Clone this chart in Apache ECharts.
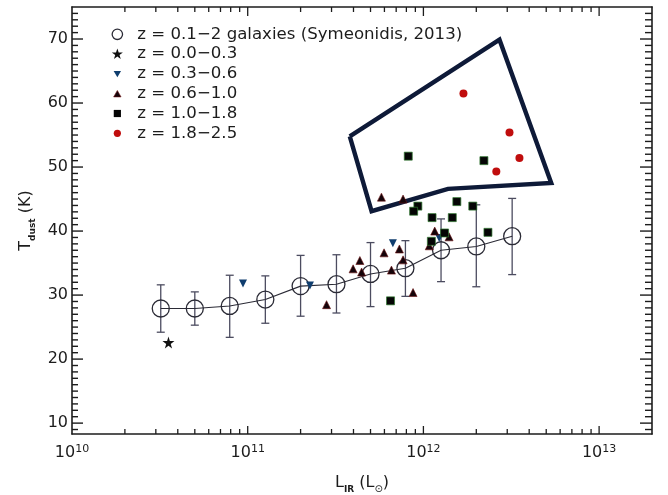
<!DOCTYPE html>
<html><head><meta charset="utf-8">
<script src="https://cdn.jsdelivr.net/npm/echarts@6/dist/echarts.min.js"></script>
<style>html,body{margin:0;padding:0;background:#fff}#c{width:668px;height:495px}</style>
</head><body><div id="c"></div>
<script>
// ---- axis ranges and tick positions ----
const X_MIN = 1e10, X_MAX = 2e13, Y_MIN = 8.3, Y_MAX = 75;
const xDecades = [1e10, 1e11, 1e12, 1e13];
const xMinorMult = [2, 3, 4, 5, 6, 7, 8, 9];
const yMajorTicks = [10, 20, 30, 40, 50, 60, 70];
const yMinorStep = 1;

// ---- binned sample (Symeonidis 2013) ----
const binL = [3.2e10, 5.0e10, 7.9e10, 1.26e11, 2.0e11, 3.2e11, 5.0e11, 7.9e11, 1.26e12, 2.0e12, 3.2e12];
const binT = [27.9, 27.9, 28.3, 29.3, 31.4, 31.7, 33.3, 34.2, 37.0, 37.6, 39.2];
const binLow = [24.2, 25.3, 23.4, 25.6, 26.7, 27.2, 28.2, 29.8, 32.1, 31.3, 33.2];
const binHigh = [31.6, 30.5, 33.1, 33.0, 36.2, 36.3, 38.2, 38.5, 41.9, 44.1, 45.1];

// ---- individual galaxies ----
const z00L = [3.54e10];
const z00T = [22.6];
const z03L = [9.4e10, 2.26e11, 6.7e11, 1.23e12];
const z03T = [31.8, 31.5, 38.1, 38.9];
const z06L = [2.81e11, 3.98e11, 4.35e11, 4.45e11, 5.97e11, 7.3e11, 7.66e11, 6.58e11, 8.73e11, 5.77e11, 7.66e11, 1.16e12, 1.40e12, 1.08e12];
const z06T = [28.5, 34.1, 35.4, 33.6, 36.6, 37.2, 35.5, 33.9, 30.4, 45.3, 45.0, 40.0, 39.1, 37.7];
const z10L = [8.2e11, 2.21e12, 9.3e11, 8.8e11, 1.55e12, 1.91e12, 1.12e12, 1.46e12, 1.32e12, 2.33e12, 1.11e12, 6.5e11];
const z10T = [51.7, 51.0, 43.9, 43.1, 44.6, 43.9, 42.1, 42.1, 39.7, 39.8, 38.4, 29.1];
const z18L = [1.69e12, 3.09e12, 3.52e12, 2.6e12];
const z18T = [61.5, 55.4, 51.4, 49.3];

// ---- outlined region ----
const boxL = [3.81e11, 2.71e12, 5.34e12, 1.38e12, 5.07e11, 3.81e11];
const boxT = [54.8, 69.9, 47.5, 46.6, 43.1, 54.8];

const legendNames = [
  'z = 0.1\u22122 galaxies (Symeonidis, 2013)',
  'z = 0.0\u22120.3',
  'z = 0.3\u22120.6',
  'z = 0.6\u22121.0',
  'z = 1.0\u22121.8',
  'z = 1.8\u22122.5'
];

const FONT = 'DejaVu Sans';
const INK = '#1c1c1c';
const BIN_C = '#2b2b36';
const BAR_C = '#4c4c60';
const BLUE = '#0f3d6e';
const TRI = '#14040a';
const SQ = '#050505';
const RED = '#c00d0d';
const BOX_C = '#0e1a38';

const pairs = (xs, ys) => xs.map((x, i) => [x, ys[i]]);
const STAR = 'path://M50,0L61,35L98,35L68,57L79,91L50,70L21,91L32,57L2,35L39,35Z';

// tick mark lists: [x, y, isMajor] (axis construction, not data)
const xTicks = [];
xDecades.forEach(d => {
  if (d > X_MIN) xTicks.push([d, Y_MIN, 1]);
  xMinorMult.forEach(m => { const v = d * m; if (v < X_MAX) xTicks.push([v, Y_MIN, 0]); });
});
const yTicks = [];
yMajorTicks.forEach(v => yTicks.push([X_MIN, v, 1]));
for (let v = Math.ceil(Y_MIN); v < Y_MAX; v += yMinorStep) { if (v % 10 !== 0) yTicks.push([X_MIN, v, 0]); }

const PAD = 'path://M0,0M12,12';
const legendIcons = [
  PAD + 'M11.2,6A5.2,5.2 0 1 1 0.8,6A5.2,5.2 0 1 1 11.2,6Z',
  PAD + 'M6,0.4L7.35,4.4L11.5,4.4L8.15,6.9L9.4,10.9L6,8.5L2.6,10.9L3.85,6.9L0.5,4.4L4.65,4.4Z',
  PAD + 'M2.3,3.2L9.7,3.2L6,9.4Z',
  PAD + 'M2.3,9.2L9.7,9.2L6,2.8Z',
  PAD + 'M2.4,2.4L9.6,2.4L9.6,9.6L2.4,9.6Z',
  PAD + 'M9.6,6A3.6,3.6 0 1 1 2.4,6A3.6,3.6 0 1 1 9.6,6Z'
];
const legendStyles = [
  {color: 'rgba(255,255,255,0)', borderColor: BIN_C, borderWidth: 1.3, opacity: 1},
  {color: '#111', borderWidth: 0, opacity: 1},
  {color: BLUE, borderWidth: 0, opacity: 1},
  {color: TRI, borderColor: '#6b1010', borderWidth: 0.6, opacity: 1},
  {color: SQ, borderWidth: 0, opacity: 1},
  {color: RED, borderWidth: 0, opacity: 1}
];

function xLabel(v) {
  const e = Math.log10(v);
  if (Math.abs(e - Math.round(e)) > 1e-6) return '';
  return '{b|10}{s|' + Math.round(e) + '}';
}
function yLabel(v) {
  if (Math.abs(v / 10 - Math.round(v / 10)) > 1e-6) return '';
  return String(Math.round(v));
}

const axisLine = {show: true, lineStyle: {color: INK, width: 1.6}};
const tickLen = {xb: [8, 5], xt: [9, 5], yl: [11, 6], yr: [12, 7]};

const chart = echarts.init(document.getElementById('c'), null, {renderer: 'canvas'});
chart.setOption({
  animation: false,
  backgroundColor: '#fff',
  textStyle: {fontFamily: FONT},
  grid: {left: 72, right: 16, top: 7, bottom: 61, containLabel: false, outerBoundsMode: 'none'},
  legend: {
    orient: 'vertical', left: 110.7, top: 24.4, padding: 0, itemGap: 0,
    itemWidth: 12, itemHeight: 12, selectedMode: false,
    textStyle: {fontFamily: FONT, fontSize: 16.6, color: INK, lineHeight: 19.8, padding: [0, 0, 0, 9]},
    data: legendNames.map((n, i) => ({name: n, icon: legendIcons[i], itemStyle: legendStyles[i]}))
  },
  xAxis: [{
    type: 'log', logBase: 10, min: X_MIN, max: X_MAX, position: 'bottom',
    axisLine: axisLine, splitLine: {show: false}, axisTick: {show: false},
    axisLabel: {
      margin: 10, formatter: xLabel, color: INK, fontFamily: FONT,
      rich: {
        b: {fontSize: 16, lineHeight: 18, fontFamily: FONT, color: INK},
        s: {fontSize: 11, lineHeight: 8, verticalAlign: 'top', fontFamily: FONT, color: INK}
      }
    },
    name: '{a|L}{b|IR}{a| (L}{c|\u2299}{a|)}',
    nameLocation: 'middle', nameGap: 38,
    nameTextStyle: {
      rich: {
        a: {fontSize: 16, lineHeight: 22, fontFamily: FONT, color: INK},
        b: {fontSize: 9, fontWeight: 'bold', lineHeight: 12, verticalAlign: 'bottom', fontFamily: FONT, color: INK},
        c: {fontSize: 10, lineHeight: 12, verticalAlign: 'bottom', fontFamily: FONT, color: INK}
      }
    }
  }, {
    type: 'log', logBase: 10, min: X_MIN, max: X_MAX, position: 'top',
    axisLine: axisLine, splitLine: {show: false}, axisTick: {show: false},
    axisLabel: {show: false}
  }],
  yAxis: [{
    type: 'value', min: Y_MIN, max: Y_MAX, position: 'left',
    axisLine: axisLine, splitLine: {show: false}, axisTick: {show: false},
    axisLabel: {margin: 4, formatter: yLabel, fontSize: 16, color: INK, fontFamily: FONT},
    name: '{a|T}{b|dust}{a| (K)}',
    nameLocation: 'middle', nameGap: 35,
    nameTextStyle: {
      rich: {
        a: {fontSize: 16, lineHeight: 22, fontFamily: FONT, color: INK},
        b: {fontSize: 9, fontWeight: 'bold', lineHeight: 12, verticalAlign: 'bottom', fontFamily: FONT, color: INK}
      }
    }
  }, {
    type: 'value', min: Y_MIN, max: Y_MAX, position: 'right',
    axisLine: axisLine, splitLine: {show: false}, axisTick: {show: false},
    axisLabel: {show: false}
  }],
  series: [{
    name: 'xticks', type: 'custom', silent: true, clip: false, z: 6,
    data: xTicks, encode: {x: 0, y: 1},
    renderItem: function (params, api) {
      const v = api.value(0);
      const k = api.value(2) === 1 ? 0 : 1;
      const b = api.coord([v, Y_MIN]);
      const t = api.coord([v, Y_MAX]);
      return {type: 'group', children: [
        {type: 'line', shape: {x1: b[0], y1: b[1], x2: b[0], y2: b[1] - tickLen.xb[k]}, style: {stroke: INK, lineWidth: 1.3}},
        {type: 'line', shape: {x1: t[0], y1: t[1], x2: t[0], y2: t[1] + tickLen.xt[k]}, style: {stroke: INK, lineWidth: 1.3}}
      ]};
    }
  }, {
    name: 'yticks', type: 'custom', silent: true, clip: false, z: 6,
    data: yTicks, encode: {x: 0, y: 1},
    renderItem: function (params, api) {
      const v = api.value(1);
      const k = api.value(2) === 1 ? 0 : 1;
      const l = api.coord([X_MIN, v]);
      const r = api.coord([X_MAX, v]);
      return {type: 'group', children: [
        {type: 'line', shape: {x1: l[0], y1: l[1], x2: l[0] + tickLen.yl[k], y2: l[1]}, style: {stroke: INK, lineWidth: 1.4}},
        {type: 'line', shape: {x1: r[0], y1: r[1], x2: r[0] - tickLen.yr[k], y2: r[1]}, style: {stroke: INK, lineWidth: 1.4}}
      ]};
    }
  }, {
    name: 'errbars', type: 'custom', silent: true, z: 3,
    data: binL.map((x, i) => [x, binLow[i], binHigh[i]]),
    encode: {x: 0, y: [1, 2]},
    renderItem: function (params, api) {
      const x = api.value(0);
      const lo = api.coord([x, api.value(1)]);
      const hi = api.coord([x, api.value(2)]);
      const st = {stroke: BAR_C, lineWidth: 1.3};
      return {type: 'group', children: [
        {type: 'line', shape: {x1: lo[0], y1: lo[1], x2: hi[0], y2: hi[1]}, style: st},
        {type: 'line', shape: {x1: lo[0] - 4, y1: lo[1], x2: lo[0] + 4, y2: lo[1]}, style: st},
        {type: 'line', shape: {x1: hi[0] - 4, y1: hi[1], x2: hi[0] + 4, y2: hi[1]}, style: st}
      ]};
    }
  }, {
    name: legendNames[0], type: 'line', z: 4,
    data: pairs(binL, binT),
    symbol: 'circle', symbolSize: 17,
    itemStyle: {color: 'rgba(255,255,255,0)', borderColor: BIN_C, borderWidth: 1.3},
    lineStyle: {color: BIN_C, width: 1.1}
  }, {
    name: 'region', type: 'line', z: 2, data: pairs(boxL, boxT),
    symbol: 'none', lineStyle: {color: BOX_C, width: 4.4, join: 'miter'}, silent: true
  }, {
    name: legendNames[1], type: 'scatter', z: 5, data: pairs(z00L, z00T),
    symbol: STAR, symbolSize: 12, itemStyle: {color: '#111', opacity: 1}
  }, {
    name: legendNames[2], type: 'scatter', z: 5, data: pairs(z03L, z03T),
    symbol: 'triangle', symbolRotate: 180, symbolSize: 8, itemStyle: {color: BLUE, opacity: 1}
  }, {
    name: legendNames[3], type: 'scatter', z: 5, data: pairs(z06L, z06T),
    symbol: 'triangle', symbolSize: 8, itemStyle: {color: TRI, borderColor: '#6b1010', borderWidth: 0.6, opacity: 1}
  }, {
    name: legendNames[4], type: 'scatter', z: 5, data: pairs(z10L, z10T),
    symbol: 'rect', symbolSize: 8, itemStyle: {color: SQ, borderColor: '#2f7a2f', borderWidth: 0.7, opacity: 1}
  }, {
    name: legendNames[5], type: 'scatter', z: 5, data: pairs(z18L, z18T),
    symbol: 'circle', symbolSize: 8, itemStyle: {color: RED, opacity: 1}
  }]
});
</script>
</body></html>
